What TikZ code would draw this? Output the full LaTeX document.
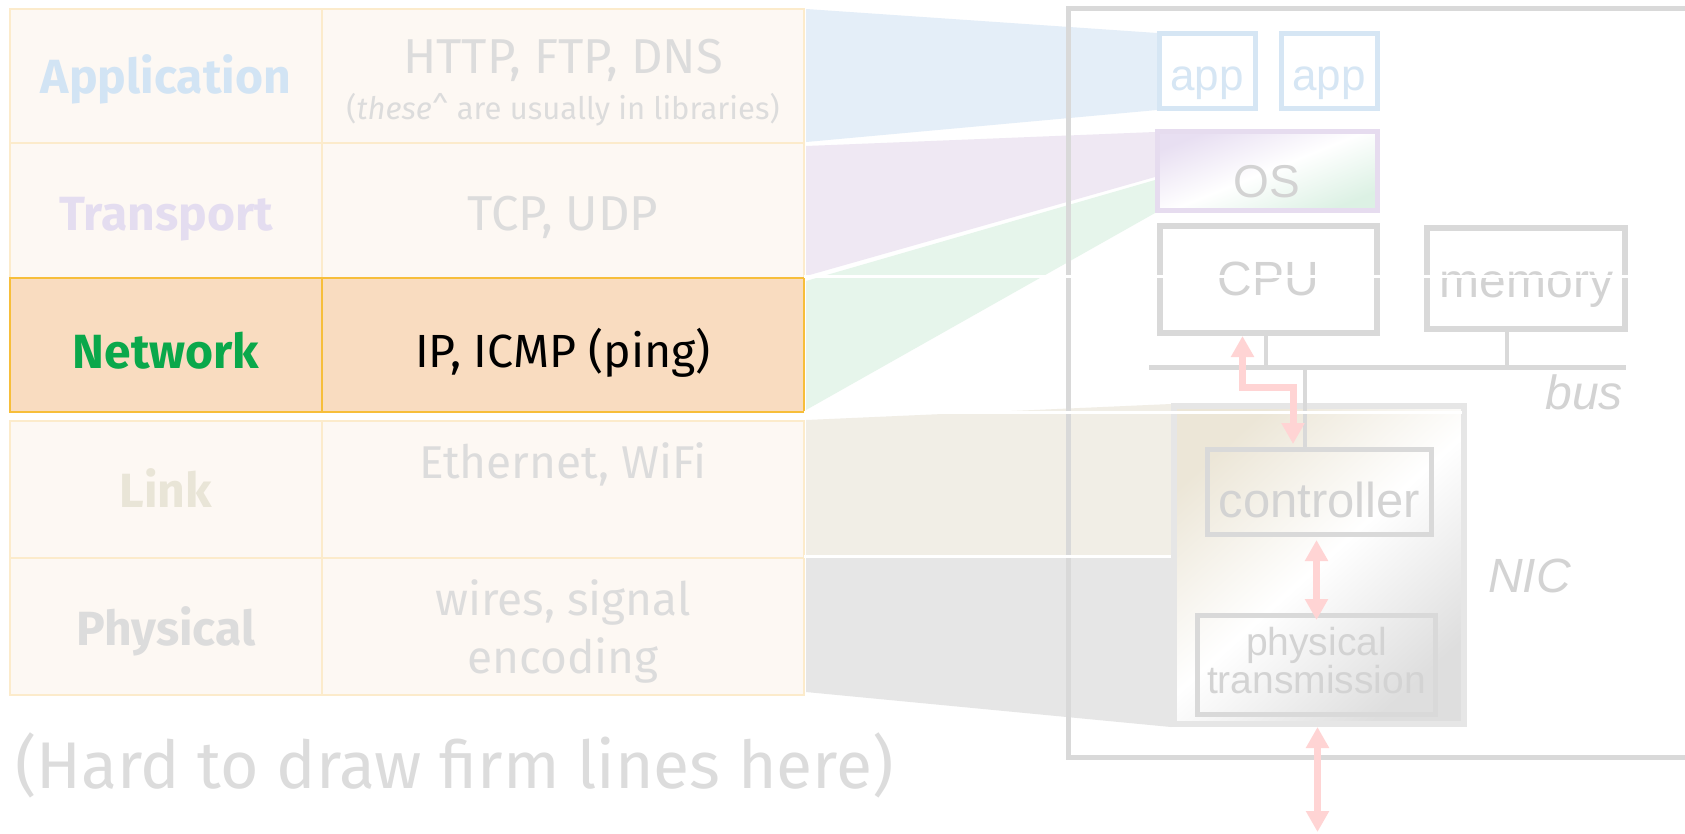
\documentclass[tikz,border=0pt]{standalone}
\usepackage{fontspec}
\setmainfont{Fira Sans}
\newfontfamily\hwfont{Liberation Sans}
\usetikzlibrary{arrows.meta}

\definecolor{tablebg}{HTML}{FDF8F3}
\definecolor{cellline}{HTML}{FCEBCB}
\definecolor{netfill}{HTML}{F9DCC0}
\definecolor{netline}{HTML}{F7BE3A}
\definecolor{fadetext}{HTML}{DCDCDC}
\definecolor{applbl}{HTML}{D2E4F4}
\definecolor{translbl}{HTML}{E4DDF0}
\definecolor{linklbl}{HTML}{E9E5D7}
\definecolor{netgreen}{HTML}{0AA84B}
\definecolor{wblue}{HTML}{E4EEF8}
\definecolor{wpurple}{HTML}{EFE8F3}
\definecolor{wgreen}{HTML}{E6F5EB}
\definecolor{wbeige}{HTML}{F1EEE6}
\definecolor{wgray}{HTML}{E6E6E6}
\definecolor{hwline}{HTML}{D9D9D9}
\definecolor{hwtext}{HTML}{D3D3D3}
\definecolor{appline}{HTML}{D6E6F4}
\definecolor{osline}{HTML}{E6DCEF}
\definecolor{ospurple}{HTML}{E8DFF2}
\definecolor{osgreen}{HTML}{DCF1E4}
\definecolor{nicbeige}{HTML}{ECE6D7}
\definecolor{nicgray}{HTML}{DEDEDE}
\definecolor{pinkc}{HTML}{FFD4D4}
\definecolor{nicline}{HTML}{E6E6E6}

\tikzset{
  cell/.style={draw=cellline, fill=tablebg, line width=1.5pt, inner sep=0pt, outer sep=0pt, anchor=north west},
  netcell/.style={cell, draw=netline, fill=netfill, line width=2.5pt},
  layerlbl/.style={anchor=base, inner sep=0pt, font=\fontsize{48}{52}\selectfont\bfseries},
  proto/.style={anchor=base, inner sep=0pt, text=fadetext, font=\fontsize{46}{58}\selectfont},
  hwbox/.style={draw=hwline, line width=5pt, fill=white, inner sep=0pt},
  hwlbl/.style={anchor=base, inner sep=0pt, text=hwtext, font=\hwfont\fontsize{48}{52}\selectfont},
  wire/.style={draw=hwline, line width=4pt},
  pk/.style={draw=pinkc, line width=7pt, {Triangle[length=21pt,width=22pt]}-{Triangle[length=21pt,width=22pt]}},
  sep/.style={draw=white, line width=3pt}
}

\begin{document}
\begin{tikzpicture}[x=1pt, y=-1pt]
\useasboundingbox (0,0) rectangle (1685,833);
\fill[white] (0,0) rectangle (1685,833);

% wedges linking each layer to the hardware that handles it
\fill[wblue]   (806,9)   -- (1157,33)  -- (1157,110) -- (806,142) -- cycle;
\fill[wpurple] (806,146) -- (1155,132) -- (1155,177) -- (806,276) -- cycle;
\fill[wgreen]  (806,281) -- (1155,180) -- (1155,213) -- (806,410) -- cycle;
\fill[wbeige]  (806,420) -- (1171,404) -- (1171,555) -- (806,555) -- cycle;
\fill[wgray]   (806,558) -- (1171,558) -- (1171,727) -- (806,692) -- cycle;

% layer table
\node[cell, minimum width=312pt, minimum height=134pt] (appL)   at (10,9)   {};
\node[cell, minimum width=482pt, minimum height=134pt] (appR)   at (322,9)  {};
\node[cell, minimum width=312pt, minimum height=135pt] (transL) at (10,143) {};
\node[cell, minimum width=482pt, minimum height=135pt] (transR) at (322,143) {};
\node[cell, minimum width=312pt, minimum height=137pt] (linkL)  at (10,421) {};
\node[cell, minimum width=482pt, minimum height=137pt] (linkR)  at (322,421) {};
\node[cell, minimum width=312pt, minimum height=137pt] (physL)  at (10,558) {};
\node[cell, minimum width=482pt, minimum height=137pt] (physR)  at (322,558) {};
\node[netcell, minimum width=312pt, minimum height=134pt] (netL) at (10,278) {};
\node[netcell, minimum width=482pt, minimum height=134pt] (netR) at (322,278) {};

\node[layerlbl, text=applbl]   (tApp)   at (166,93)  {Application};
\node[layerlbl, text=translbl] (tTrans) at (166,230) {Transport};
\node[layerlbl, text=netgreen] (tNet)   at (166,368) {Network};
\node[layerlbl, text=linklbl]  (tLink)  at (166,507) {Link};
\node[layerlbl, text=fadetext] (tPhys)  at (166,645) {Physical};

\node[proto, font=\fontsize{49}{58}\selectfont] (pApp) at (563,73) {HTTP, FTP, DNS};
\node[proto, font=\fontsize{31}{34}\selectfont] (pNote) at (563,119)
  {(\textit{these}\textasciicircum{} are usually in libraries)};
\node[proto, font=\fontsize{49}{58}\selectfont] (pTrans) at (563,230) {TCP, UDP};
\node[proto, text=black, font=\fontsize{46.5}{58}\selectfont] (pNet) at (563,367) {IP, ICMP (ping)};
\node[proto] (pLink)  at (563,478) {Ethernet, WiFi};
\node[proto, align=center] (pPhys) at (563,673) {wires, signal\\encoding};

\node[anchor=base west, inner sep=0pt, text=fadetext, font=\fontsize{66}{72}\selectfont]
  (hard) at (15,788) {(Hard to draw firm lines here)};

% host machine outline (runs off the right edge)
\draw[hwline, line width=5pt] (1700,8.5) -- (1068,8.5) -- (1068,757) -- (1700,757);

% software
\node[hwbox, draw=appline, minimum width=96pt, minimum height=75pt] (app1) at (1207.5,71) {};
\node[hwbox, draw=appline, minimum width=96pt, minimum height=75pt] (app2) at (1329.5,71) {};
\node[hwbox, draw=osline, top color=ospurple, bottom color=osgreen, middle color=white,
      shading angle=22, minimum width=220pt, minimum height=79pt] (os) at (1267.5,171) {};
\node[hwlbl, text=appline, font=\hwfont\fontsize{44}{48}\selectfont] (appT1) at (1207,90) {app};
\node[hwlbl, text=appline, font=\hwfont\fontsize{44}{48}\selectfont] (appT2) at (1329,90) {app};
\node[hwlbl, font=\hwfont\fontsize{46}{50}\selectfont] (osT) at (1267,197) {OS};

% CPU, memory and bus
\node[hwbox, line width=6pt, minimum width=217pt, minimum height=107pt] (cpu) at (1268.5,279.5) {};
\node[hwbox, line width=6pt, minimum width=198pt, minimum height=101pt] (mem) at (1526,278.5) {};
\node[hwlbl] (cpuT) at (1268,295) {CPU};
\node[hwlbl] (memT) at (1526.5,297) {memory};
\coordinate (busL) at (1149,367);
\coordinate (busR) at (1626,367);
\draw[wire, line width=5pt] (busL) -- (busR);
\draw[wire, line width=4pt] ([xshift=-3pt]cpu.south) -- ([xshift=-3pt]cpu.south |- busL);
\draw[wire, line width=4pt] ([xshift=-19pt]mem.south) -- ([xshift=-19pt]mem.south |- busL);
\node[hwlbl, anchor=base east, font=\hwfont\itshape\fontsize{48}{52}\selectfont] (busT) at (1623,409) {bus};

% network interface card
\node[hwbox, draw=nicline, line width=6pt, top color=nicbeige, bottom color=nicgray, middle color=white,
      shading angle=42, minimum width=290pt, minimum height=318pt] (nic) at (1319,565) {};
\node[hwbox, line width=5pt, fill=none, minimum width=224pt, minimum height=85pt] (ctrl) at (1319.5,492) {};
\node[hwbox, line width=5pt, fill=none, minimum width=238pt, minimum height=99pt] (phys) at (1316.5,665) {};
\node[hwlbl, font=\hwfont\fontsize{49}{52}\selectfont] (ctrlT) at (1319.5,517) {controller};
\node[hwlbl, align=center, font=\hwfont\fontsize{39}{38}\selectfont] (physT) at (1316.5,693) {physical\\transmission};
\node[hwlbl, anchor=base west, font=\hwfont\itshape\fontsize{48}{52}\selectfont] (nicT) at (1488,592) {NIC};
\draw[wire, line width=4pt] ([xshift=-14.5pt]ctrl.north |- busL) -- ([xshift=-14.5pt]ctrl.north);

% white separators carried across from the table rows
\draw[sep] (804,276.5) -- (1685,276.5);
\draw[sep] (804,412) -- (1462,412);
\draw[sep] (804,556.5) -- (1171,556.5);

% data paths
\coordinate (wireEnd) at (1317.5,832);
\draw[pk, shorten >=3pt] ([xshift=-26pt]cpu.south) -- ++(0,51) -| ([xshift=-26.5pt]ctrl.north);
\draw[pk, shorten <=-7pt, shorten >=3pt] (phys.north) -- (phys.north |- ctrl.south);
\draw[pk] (nic.south -| wireEnd) -- (wireEnd);
\end{tikzpicture}
\end{document}
